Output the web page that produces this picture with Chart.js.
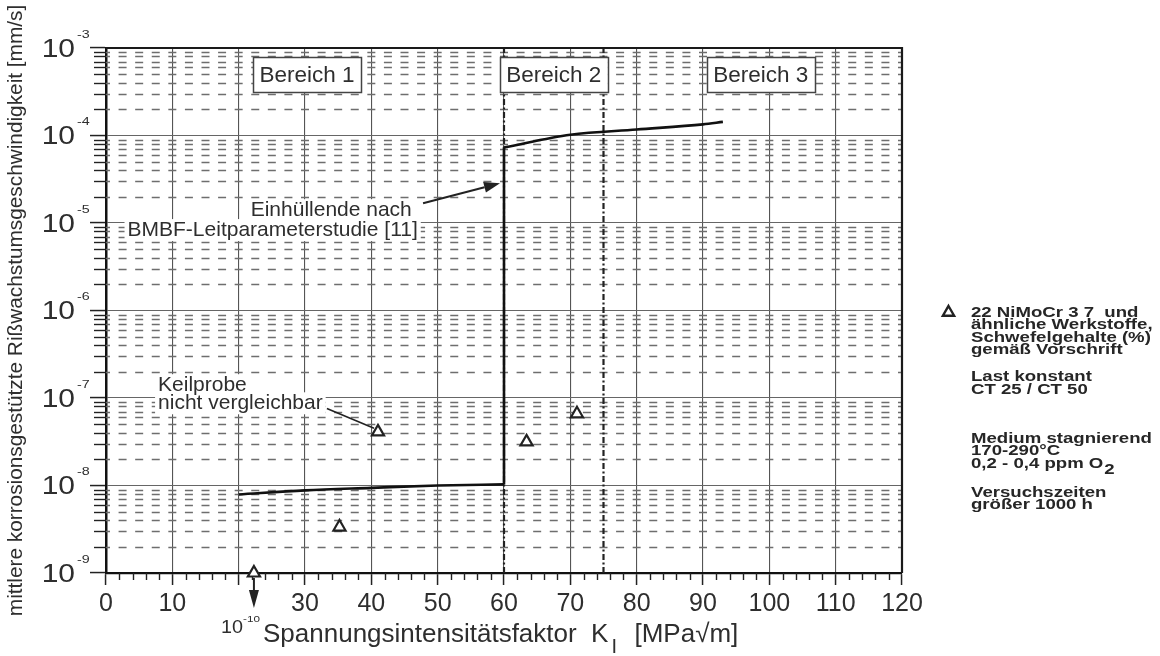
<!DOCTYPE html>
<html>
<head>
<meta charset="utf-8">
<script src="https://cdn.jsdelivr.net/npm/chart.js@4.4.1/dist/chart.umd.min.js"></script>
<style>
html,body{margin:0;padding:0;background:#fff;}
canvas{display:block;}
</style>
</head>
<body>
<canvas id="c" width="1160" height="656"></canvas>
<script>
// ---------------- data ----------------
const xTickValues = [0, 10, 20, 30, 40, 50, 60, 70, 80, 90, 100, 110, 120];
const xTickLabels = ['0', '10', '', '30', '40', '50', '60', '70', '80', '90', '100', '110', '120'];
const xMinorStep = 2;
const yDecadeValues = [1e-9, 1e-8, 1e-7, 1e-6, 1e-5, 1e-4, 1e-3];
const yMinorFactors = [2, 3, 4, 5, 6, 7, 8, 9];

// envelope after BMBF-Leitparameterstudie
const envelopeLowK  = [20, 30, 40, 50, 60];
const envelopeLowV  = [7.9e-9, 8.8e-9, 9.4e-9, 1.0e-8, 1.03e-8];
const envelopeStepK = [60, 60];
const envelopeStepV = [1.03e-8, 7.3e-5];
const envelopeHighK = [60, 70, 80, 90, 93];
const envelopeHighV = [7.3e-5, 1.02e-4, 1.17e-4, 1.34e-4, 1.43e-4];

// 22 NiMoCr 3 7 specimens
const specimenK = [22.3, 35.2, 41.0, 63.4, 71.0];
const specimenV = [1.0e-9, 3.35e-9, 4.1e-8, 3.15e-8, 6.6e-8];

// regions
const regionBoundaryK = [60, 75];
const regionNames = ['Bereich 1', 'Bereich 2', 'Bereich 3'];
const regionNameK = [30.3, 67.5, 98.7];

const yTitle = 'mittlere korrosionsgestützte Rißwachstumsgeschwindigkeit [mm/s]';
const legendGroups = [
  ['22 NiMoCr 3 7  und', 'ähnliche Werkstoffe,', 'Schwefelgehalte (%)', 'gemäß Vorschrift'],
  ['Last konstant', 'CT 25 / CT 50'],
  ['Medium stagnierend', '170-290°C', '0,2 - 0,4 ppm O'],
  ['Versuchszeiten', 'größer 1000 h']
];

// ---------------- drawing ----------------
const FF = "'Liberation Sans', Arial, Helvetica, sans-serif";
const TXT = '#2e2e2e';

function pts(ks, vs) { return ks.map((k, i) => ({ x: k, y: vs[i] })); }

function arrow(c, x1, y1, x2, y2, len, half) {
  const ang = Math.atan2(y2 - y1, x2 - x1);
  const bx = x2 - Math.cos(ang) * len, by = y2 - Math.sin(ang) * len;
  c.beginPath(); c.moveTo(x1, y1); c.lineTo(bx, by); c.stroke();
  c.beginPath();
  c.moveTo(x2, y2);
  c.lineTo(bx + Math.sin(ang) * half, by - Math.cos(ang) * half);
  c.lineTo(bx - Math.sin(ang) * half, by + Math.cos(ang) * half);
  c.closePath(); c.fill();
}

function stretchText(c, txt, x, y, font, sx, align) {
  c.save();
  c.font = font;
  const w = c.measureText(txt).width * sx;
  let lx = x;
  if (align === 'right') lx = x - w;
  else if (align === 'center') lx = x - w / 2;
  c.translate(lx, y); c.scale(sx, 1);
  c.textAlign = 'left';
  c.fillText(txt, 0, 0);
  c.restore();
  return w;
}

function triangle(c, cx, cy, r) {
  c.beginPath();
  for (let i = 0; i < 3; i++) {
    const a = i * 2 * Math.PI / 3;
    const px = cx + Math.sin(a) * r, py = cy - Math.cos(a) * r;
    if (i === 0) c.moveTo(px, py); else c.lineTo(px, py);
  }
  c.closePath();
}

const paperPlugin = {
  id: 'paper',
  beforeDraw(chart) {
    const c = chart.ctx;
    c.save(); c.fillStyle = '#fff'; c.fillRect(0, 0, chart.width, chart.height); c.restore();
  },
  beforeDatasetsDraw(chart) {
    const { ctx: c, chartArea: a, scales: { x, y } } = chart;
    // minor dashed grid lines
    c.save();
    c.beginPath(); c.rect(a.left, a.top, a.right - a.left, a.bottom - a.top); c.clip();
    const period = (x.getPixelForValue(10) - x.getPixelForValue(0)) / 4;
    c.strokeStyle = '#6e6e6e'; c.lineWidth = 1.3;
    c.setLineDash([8, period - 8]);
    yDecadeValues.slice(0, -1).forEach(d => yMinorFactors.forEach(m => {
      const py = Math.round(y.getPixelForValue(m * d)) + 0.5;
      c.beginPath(); c.moveTo(a.left - 4, py); c.lineTo(a.right, py); c.stroke();
    }));
    c.restore();

    // minor tick marks outside the axes
    c.save();
    c.strokeStyle = '#222'; c.lineWidth = 1.4;
    yDecadeValues.slice(0, -1).forEach(d => yMinorFactors.forEach(m => {
      const py = Math.round(y.getPixelForValue(m * d)) + 0.5;
      c.beginPath(); c.moveTo(a.left - 12, py); c.lineTo(a.left, py); c.stroke();
    }));
    for (let k = 0; k <= 120; k += xMinorStep) {
      if (k % 10 === 0) continue;
      const px = Math.round(x.getPixelForValue(k)) + 0.5;
      c.beginPath(); c.moveTo(px, a.bottom); c.lineTo(px, a.bottom + 7); c.stroke();
    }
    c.restore();

    // annotation texts on white ground
    c.save();
    c.font = `21px ${FF}`;
    c.textBaseline = 'middle';
    const blocks = [
      { t: 'Einhüllende nach', k: 46.1, v: 1.40e-5, align: 'right' },
      { t: 'BMBF-Leitparameterstudie [11]', k: 47.0, v: 8.3e-6, align: 'right' },
      { t: 'Keilprobe', k: 7.85, v: 1.40e-7, align: 'left' },
      { t: 'nicht vergleichbar', k: 7.85, v: 8.7e-8, align: 'left' }
    ];
    blocks.forEach(b => {
      const px = x.getPixelForValue(b.k), py = y.getPixelForValue(b.v);
      const w = c.measureText(b.t).width;
      const lx = b.align === 'right' ? px - w : px;
      c.fillStyle = '#fff';
      c.fillRect(lx - 3, py - 11, w + 6, 22);
    });
    c.fillStyle = TXT;
    blocks.forEach(b => {
      const px = x.getPixelForValue(b.k), py = y.getPixelForValue(b.v);
      c.textAlign = b.align;
      c.fillText(b.t, px, py);
    });
    c.restore();
  },
  afterDatasetsDraw(chart) {
    const { ctx: c, chartArea: a, scales: { x, y } } = chart;
    c.save();
    // arrows of annotations
    c.strokeStyle = '#222'; c.fillStyle = '#222'; c.lineWidth = 2;
    arrow(c, x.getPixelForValue(47.8), y.getPixelForValue(1.68e-5),
             x.getPixelForValue(59.4), y.getPixelForValue(2.85e-5), 16, 5.5);
    c.lineWidth = 1.6;
    c.beginPath();
    c.moveTo(x.getPixelForValue(33.3), y.getPixelForValue(7.6e-8));
    c.lineTo(x.getPixelForValue(40.4), y.getPixelForValue(4.5e-8));
    c.stroke();

    // region label boxes
    c.font = `22.5px ${FF}`;
    c.textAlign = 'center'; c.textBaseline = 'middle';
    regionNames.forEach((t, i) => {
      const cx = x.getPixelForValue(regionNameK[i]);
      const w = 108, h = 35, top = a.top + 9;
      c.fillStyle = '#fff';
      c.fillRect(cx - w / 2, top, w, h);
      c.strokeStyle = '#444'; c.lineWidth = 1.5;
      c.strokeRect(Math.round(cx - w / 2) + 0.5, top + 0.5, w, h);
      c.fillStyle = TXT;
      c.fillText(t, cx, top + h / 2 + 1);
    });
    c.restore();
  },
  afterDraw(chart) {
    const { ctx: c, chartArea: a, scales: { x, y } } = chart;
    c.save();
    // frame (top and right)
    c.strokeStyle = '#1a1a1a'; c.lineWidth = 2.2;
    c.beginPath();
    c.moveTo(a.left, a.top); c.lineTo(a.right, a.top); c.lineTo(a.right, a.bottom);
    c.stroke();

    // y tick labels 10^n
    c.fillStyle = TXT;
    y.ticks.forEach(t => {
      const py = y.getPixelForValue(t.value);
      const e = Math.round(Math.log10(t.value));
      stretchText(c, '10', 75, py + 8.5, `25px ${FF}`, 1.2, 'right');
      stretchText(c, String(e), 77, py - 10.5, `11px ${FF}`, 1.3, 'left');
    });

    // arrow to 10^-10 for the lowest specimen
    const ax = x.getPixelForValue(specimenK[0]);
    const ay = y.getPixelForValue(specimenV[0]);
    c.strokeStyle = '#222'; c.fillStyle = '#222'; c.lineWidth = 2;
    arrow(c, ax, ay + 5, ax, 608, 18, 5);
    c.fillStyle = TXT;
    stretchText(c, '10', 221, 633, `18px ${FF}`, 1.1, 'left');
    stretchText(c, '-10', 243, 622, `9px ${FF}`, 1.3, 'left');

    // x axis title
    c.font = `26px ${FF}`; c.textAlign = 'left'; c.textBaseline = 'alphabetic';
    let tx = 263; const by = 642;
    c.fillText('Spannungsintensitätsfaktor', tx, by);
    tx += c.measureText('Spannungsintensitätsfaktor  ').width;
    c.fillText('K', tx, by);
    tx += c.measureText('K').width + 3;
    c.font = `20px ${FF}`;
    c.fillText('I', tx, by + 11);
    tx += c.measureText('I').width;
    c.font = `26px ${FF}`;
    tx += c.measureText('  ').width + 3;
    c.fillText('[MPa√m]', tx, by);

    // legend on the right
    c.strokeStyle = '#222'; c.lineWidth = 2.4; c.fillStyle = '#fff';
    triangle(c, 948.5, 312.5, 6.5); c.fill(); c.stroke();
    c.fillStyle = '#262626';
    const bFont = `bold 15.5px ${FF}`;
    const groupStarts = [316.5, 381, 442.5, 496.5];
    legendGroups.forEach((g, gi) => {
      g.forEach((line, li) => {
        const yy = groupStarts[gi] + li * 12.6;
        const w = stretchText(c, line, 971, yy, bFont, 1.2, 'left');
        if (gi === 2 && li === 2) stretchText(c, '2', 971 + w + 1, yy + 6, bFont, 1.2, 'left');
      });
    });
    c.restore();
  }
};

new Chart(document.getElementById('c'), {
  type: 'scatter',
  data: {
    datasets: [
      {
        label: 'Specimens', data: pts(specimenK, specimenV), order: 0, clip: false,
        pointStyle: 'triangle', pointRadius: 7, pointHoverRadius: 7,
        borderColor: '#222', backgroundColor: '#fff', borderWidth: 2.2, showLine: false
      },
      {
        label: 'Envelope low', data: pts(envelopeLowK, envelopeLowV), order: 1,
        showLine: true, borderColor: '#111', borderWidth: 2.6, pointRadius: 0,
        cubicInterpolationMode: 'monotone'
      },
      {
        label: 'Envelope step', data: pts(envelopeStepK, envelopeStepV), order: 1,
        showLine: true, borderColor: '#111', borderWidth: 2.6, pointRadius: 0
      },
      {
        label: 'Envelope high', data: pts(envelopeHighK, envelopeHighV), order: 1,
        showLine: true, borderColor: '#111', borderWidth: 2.6, pointRadius: 0,
        cubicInterpolationMode: 'monotone'
      },
      ...regionBoundaryK.map(k => ({
        label: 'Grenze ' + k, data: [{ x: k, y: yDecadeValues[0] }, { x: k, y: yDecadeValues[yDecadeValues.length - 1] }],
        order: 2, showLine: true, borderColor: '#222', borderWidth: 2.2,
        borderDash: [6, 2.5, 2, 2.5], pointRadius: 0
      }))
    ]
  },
  options: {
    responsive: false,
    animation: false,
    devicePixelRatio: 1,
    layout: { padding: { top: 48, right: 258, left: 0, bottom: 0 } },
    plugins: { legend: { display: false }, tooltip: { enabled: false } },
    events: [],
    scales: {
      x: {
        type: 'linear', min: 0, max: 120,
        afterBuildTicks: s => { s.ticks = xTickValues.map(v => ({ value: v })); },
        ticks: {
          font: { family: FF, size: 25 }, color: TXT, padding: 4, maxRotation: 0, autoSkip: false,
          callback: (v, i) => xTickLabels[i]
        },
        grid: { color: '#555', lineWidth: 1.1, tickLength: 12, tickColor: '#222', tickWidth: 1.5 },
        border: { color: '#111', width: 2.2 },
        afterFit: s => { s.height = 83; }
      },
      y: {
        type: 'logarithmic', min: 1e-9, max: 1e-3,
        afterBuildTicks: s => { s.ticks = yDecadeValues.map(v => ({ value: v, major: true })); },
        ticks: { display: false },
        grid: { color: '#666', lineWidth: 1.1, tickLength: 16, tickColor: '#222', tickWidth: 1.5 },
        border: { color: '#111', width: 2.5 },
        title: { display: true, text: yTitle, color: TXT, font: { family: FF, size: 20.8 }, padding: { top: 4, bottom: 0 } },
        afterFit: s => { s.width = 106; }
      }
    }
  },
  plugins: [paperPlugin]
});
</script>
</body>
</html>
